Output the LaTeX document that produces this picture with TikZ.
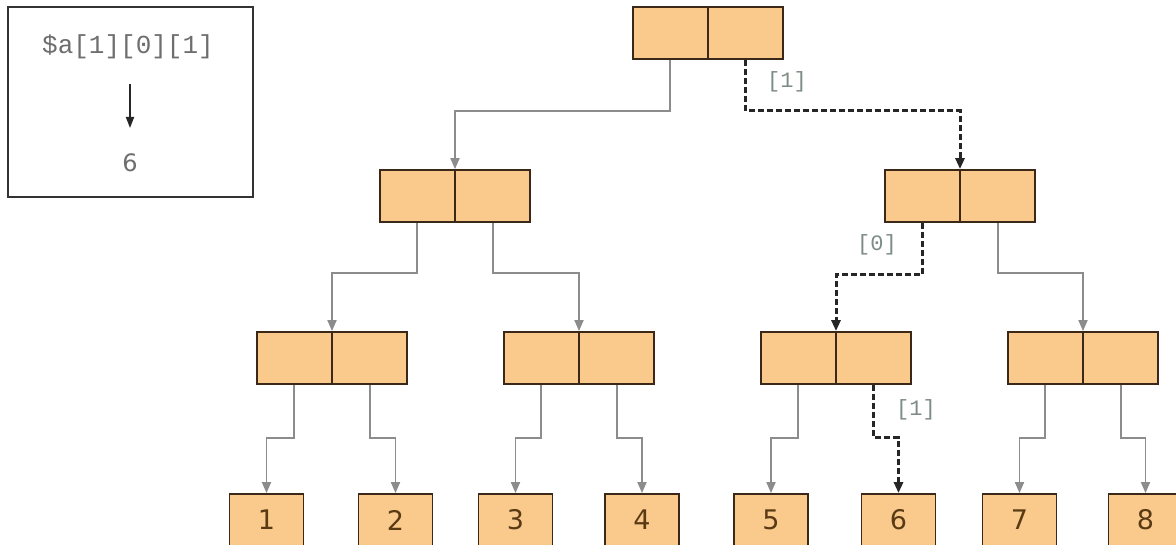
\documentclass[tikz,border=0pt]{standalone}
\usepackage{fontspec}
\usetikzlibrary{arrows.meta,calc}
\newfontfamily\monof{Liberation Mono}
\newfontfamily\sansf{DejaVu Sans}
\definecolor{boxfill}{RGB}{250,201,140}
\definecolor{boxline}{RGB}{60,40,25}
\definecolor{digit}{RGB}{90,58,20}
\definecolor{conngray}{RGB}{140,140,140}
\definecolor{lblgray}{RGB}{125,140,132}
\definecolor{insetgray}{RGB}{110,110,110}
\tikzset{
  pair/.style={draw=boxline, line width=1.8pt, fill=boxfill, minimum width=150pt, minimum height=52pt, inner sep=0pt,
    path picture={\draw[boxline, line width=1.8pt] (path picture bounding box.north) -- (path picture bounding box.south);}},
  leaf/.style={draw=boxline, line width=1.8pt, fill=boxfill, minimum width=74pt, minimum height=52pt, inner sep=0pt,
    font=\sansf\fontsize{27}{27}\selectfont, text=digit},
  conn/.style={draw=conngray, line width=1.8pt, -{Triangle[length=11pt,width=9pt]}},
  dconn/.style={draw=black!85, line width=3pt, dash pattern=on 6pt off 3pt, -{Triangle[length=11pt,width=9pt]}},
  lbl/.style={font=\monof\fontsize{22}{22}\selectfont, text=lblgray},
}
\begin{document}
\begin{tikzpicture}[x=1pt,y=-1pt]
\clip (0,0) rectangle (1176,545);
\fill[white] (0,0) rectangle (1176,545);
% inset
\node[draw=black!80, line width=1.8pt, minimum width=245pt, minimum height=190pt, inner sep=0pt] (inset) at (130.5,102) {};
\node[font=\monof\fontsize{26}{26}\selectfont, text=insetgray] (expr) at (128,47) {\$a[1][0][1]};
\node[font=\sansf\fontsize{24}{24}\selectfont, text=insetgray] (six) at (130,163) {6};
\coordinate (ia) at (130,84);
\coordinate (ib) at (130,128);
\draw[black!85, line width=1.8pt, -{Triangle[length=11pt,width=8pt]}] (ia) -- (ib);
% nodes
\node[pair] (A) at (708,33) {};
\node[pair] (B1) at (455,196) {};
\node[pair] (B2) at (960,196) {};
\node[pair] (C1) at (332,358) {};
\node[pair] (C2) at (579,358) {};
\node[pair] (C3) at (836,358) {};
\node[pair] (C4) at (1083,358) {};
\foreach \n/\x in {1/266.5,2/395.5,3/515.5,4/642,5/771,6/898.5,7/1019.5,8/1145.5}
  \node[leaf] (L\n) at (\x,520) {\n};
% cell coordinates
\foreach \nd in {A,B1,B2,C1,C2,C3,C4}{
  \coordinate (\nd l) at ($(\nd.south west)!0.25!(\nd.south east)$);
  \coordinate (\nd r) at ($(\nd.south west)!0.75!(\nd.south east)$);
}
% connectors level 1
\draw[conn] (Al) -- ++(0,51) -| (B1.north);
\draw[dconn] (Ar) -- ++(0,51) -| (B2.north);
% level 2
\draw[conn] (B1l) -- ++(0,50) -| (C1.north);
\draw[conn] (B1r) -- ++(0,50) -| (C2.north);
\draw[dconn] (B2l) -- ++(0,52) -| (C3.north);
\draw[conn] (B2r) -- ++(0,50) -| (C4.north);
% level 3
\draw[conn] (C1l) -- ++(0,53) -| (L1.north);
\draw[conn] (C1r) -- ++(0,53) -| (L2.north);
\draw[conn] (C2l) -- ++(0,53) -| (L3.north);
\draw[conn] (C2r) -- ++(0,53) -| (L4.north);
\draw[conn] (C3l) -- ++(0,53) -| (L5.north);
\draw[dconn] (C3r) -- ++(0,53) -| (L6.north);
\draw[conn] (C4l) -- ++(0,53) -| (L7.north);
\draw[conn] (C4r) -- ++(0,53) -| (L8.north);
% labels
\node[lbl] (l1) at (787,82) {[1]};
\node[lbl] (l2) at (877,245) {[0]};
\node[lbl] (l3) at (916,410) {[1]};
\end{tikzpicture}
\end{document}
